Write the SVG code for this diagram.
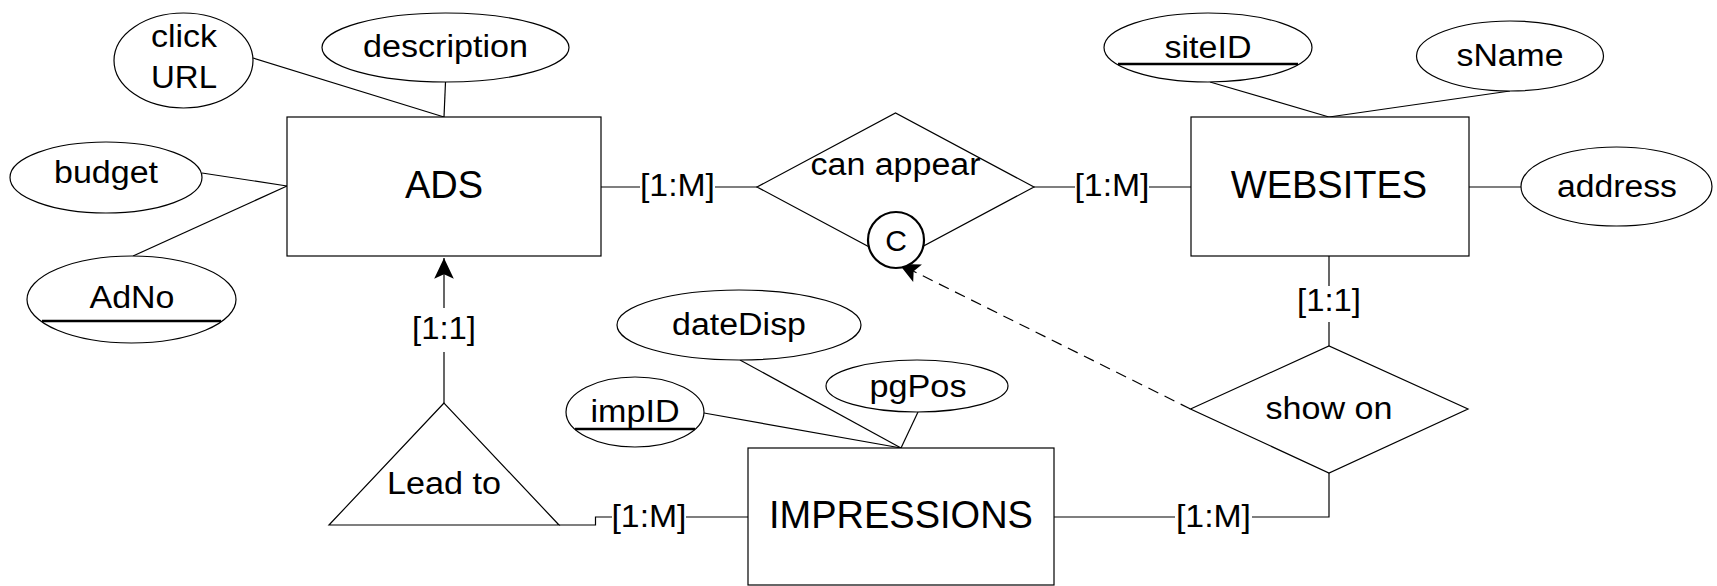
<svg xmlns="http://www.w3.org/2000/svg" width="1717" height="586" viewBox="0 0 1717 586">
<style>
.shape{fill:#fff;stroke:#000;stroke-width:1.2}
.ln{fill:none;stroke:#000;stroke-width:1.2}
.ul{stroke:#000;stroke-width:2.5}
.t{font-family:"Liberation Sans",Arial,sans-serif;font-size:31px;fill:#000;text-anchor:middle}
.e{font-size:38px}
</style>
<defs>
<marker id="ah" markerUnits="userSpaceOnUse" markerWidth="24" markerHeight="24" viewBox="-20 -10 22 20" refX="0" refY="0" orient="auto">
<path d="M0,0 L-19,-9 L-15,0 L-19,9 Z" fill="#000"/>
</marker>
</defs>
<rect width="1717" height="586" fill="#fff"/>
<g id="connectors">
<line class="ln" x1="253" y1="58" x2="444" y2="117"/>
<line class="ln" x1="445.5" y1="82" x2="444" y2="117"/>
<line class="ln" x1="202" y1="173" x2="287" y2="186"/>
<line class="ln" x1="133" y1="256" x2="287" y2="186"/>
<line class="ln" x1="601" y1="187" x2="640" y2="187"/>
<line class="ln" x1="715" y1="187" x2="757" y2="187"/>
<text class="t" x="677.5" y="196" textLength="75" lengthAdjust="spacingAndGlyphs">[1:M]</text>
<line class="ln" x1="1034" y1="187" x2="1075" y2="187"/>
<line class="ln" x1="1149" y1="187" x2="1191" y2="187"/>
<text class="t" x="1112" y="196" textLength="75" lengthAdjust="spacingAndGlyphs">[1:M]</text>
<line class="ln" x1="1210" y1="82" x2="1329" y2="117"/>
<line class="ln" x1="1510" y1="91" x2="1329" y2="117"/>
<line class="ln" x1="1469" y1="187" x2="1521" y2="187"/>
<line class="ln" x1="1329" y1="256" x2="1329" y2="286"/>
<line class="ln" x1="1329" y1="322" x2="1329" y2="346"/>
<text class="t" x="1329" y="311" textLength="64" lengthAdjust="spacingAndGlyphs">[1:1]</text>
<polyline class="ln" points="1329,473 1329,517 1252,517"/>
<line class="ln" x1="1175" y1="517" x2="1054" y2="517"/>
<text class="t" x="1213.5" y="527" textLength="75" lengthAdjust="spacingAndGlyphs">[1:M]</text>
<line class="ln" x1="748" y1="517" x2="686" y2="517"/>
<polyline class="ln" points="612,517 595.5,517 595.5,525 559,525"/>
<text class="t" x="649" y="527" textLength="75" lengthAdjust="spacingAndGlyphs">[1:M]</text>
<line class="ln" x1="444" y1="403" x2="444" y2="352"/>
<line class="ln" x1="444" y1="308" x2="444" y2="258" marker-end="url(#ah)"/>
<text class="t" x="444" y="339" textLength="64" lengthAdjust="spacingAndGlyphs">[1:1]</text>
<line class="ln" x1="1190.5" y1="409" x2="899" y2="264" stroke-dasharray="11,7" marker-end="url(#ah)"/>
<line class="ln" x1="740" y1="360" x2="901" y2="448"/>
<line class="ln" x1="704" y1="413" x2="901" y2="448"/>
<line class="ln" x1="918" y1="412" x2="901" y2="448"/>
</g>
<g id="clickURL">
<ellipse class="shape" cx="183.5" cy="60.5" rx="69.5" ry="47.5"/>
<text class="t" x="184" y="47" textLength="66" lengthAdjust="spacingAndGlyphs">click</text>
<text class="t" x="184" y="88" textLength="66" lengthAdjust="spacingAndGlyphs">URL</text>
</g>
<g id="description">
<ellipse class="shape" cx="445.5" cy="47.5" rx="123.5" ry="34.5"/>
<text class="t" x="445.5" y="57" textLength="165" lengthAdjust="spacingAndGlyphs">description</text>
</g>
<g id="budget">
<ellipse class="shape" cx="106" cy="177.5" rx="96" ry="35.5"/>
<text class="t" x="106" y="183" textLength="104" lengthAdjust="spacingAndGlyphs">budget</text>
</g>
<g id="AdNo">
<ellipse class="shape" cx="131.5" cy="299.5" rx="104.5" ry="43.5"/>
<text class="t" x="132" y="308" textLength="85" lengthAdjust="spacingAndGlyphs">AdNo</text>
<line class="ul" x1="42" y1="321" x2="221" y2="321"/>
</g>
<g id="ADS">
<rect class="shape" x="287" y="117" width="314" height="139"/>
<text class="t e" x="444" y="198">ADS</text>
</g>
<g id="canAppear">
<polygon class="shape" points="757,187 895.5,113 1034,187 895.5,261"/>
<text class="t" x="895.5" y="175" textLength="170" lengthAdjust="spacingAndGlyphs">can appear</text>
<circle cx="896" cy="240" r="28" fill="#fff" stroke="#000" stroke-width="2.2"/>
<text class="t" x="896" y="251" style="font-size:30px">C</text>
</g>
<g id="WEBSITES">
<rect class="shape" x="1191" y="117" width="278" height="139"/>
<text class="t e" x="1329" y="198">WEBSITES</text>
</g>
<g id="siteID">
<ellipse class="shape" cx="1208" cy="47.5" rx="104" ry="34.5"/>
<text class="t" x="1208" y="58" textLength="87" lengthAdjust="spacingAndGlyphs">siteID</text>
<line class="ul" x1="1118" y1="64" x2="1298" y2="64"/>
</g>
<g id="sName">
<ellipse class="shape" cx="1510" cy="56" rx="93.5" ry="35"/>
<text class="t" x="1510" y="66" textLength="107" lengthAdjust="spacingAndGlyphs">sName</text>
</g>
<g id="address">
<ellipse class="shape" cx="1616.5" cy="186.5" rx="95.5" ry="39.5"/>
<text class="t" x="1617" y="197" textLength="120" lengthAdjust="spacingAndGlyphs">address</text>
</g>
<g id="showOn">
<polygon class="shape" points="1190.5,409 1329,346 1468,409 1329,473"/>
<text class="t" x="1329" y="419" textLength="127" lengthAdjust="spacingAndGlyphs">show on</text>
</g>
<g id="IMPRESSIONS">
<rect class="shape" x="748" y="448" width="306" height="137"/>
<text class="t e" x="901" y="528">IMPRESSIONS</text>
</g>
<g id="dateDisp">
<ellipse class="shape" cx="739" cy="325" rx="122" ry="35"/>
<text class="t" x="739" y="335" textLength="134" lengthAdjust="spacingAndGlyphs">dateDisp</text>
</g>
<g id="pgPos">
<ellipse class="shape" cx="917" cy="386" rx="91" ry="26"/>
<text class="t" x="918" y="397" textLength="97" lengthAdjust="spacingAndGlyphs">pgPos</text>
</g>
<g id="impID">
<ellipse class="shape" cx="635" cy="412" rx="69" ry="35"/>
<text class="t" x="635" y="422" textLength="89" lengthAdjust="spacingAndGlyphs">impID</text>
<line class="ul" x1="575" y1="429" x2="695" y2="429"/>
</g>
<g id="leadTo">
<polygon class="shape" points="444,403 329,525 559,525"/>
<text class="t" x="444" y="494" textLength="114" lengthAdjust="spacingAndGlyphs">Lead to</text>
</g>
</svg>
